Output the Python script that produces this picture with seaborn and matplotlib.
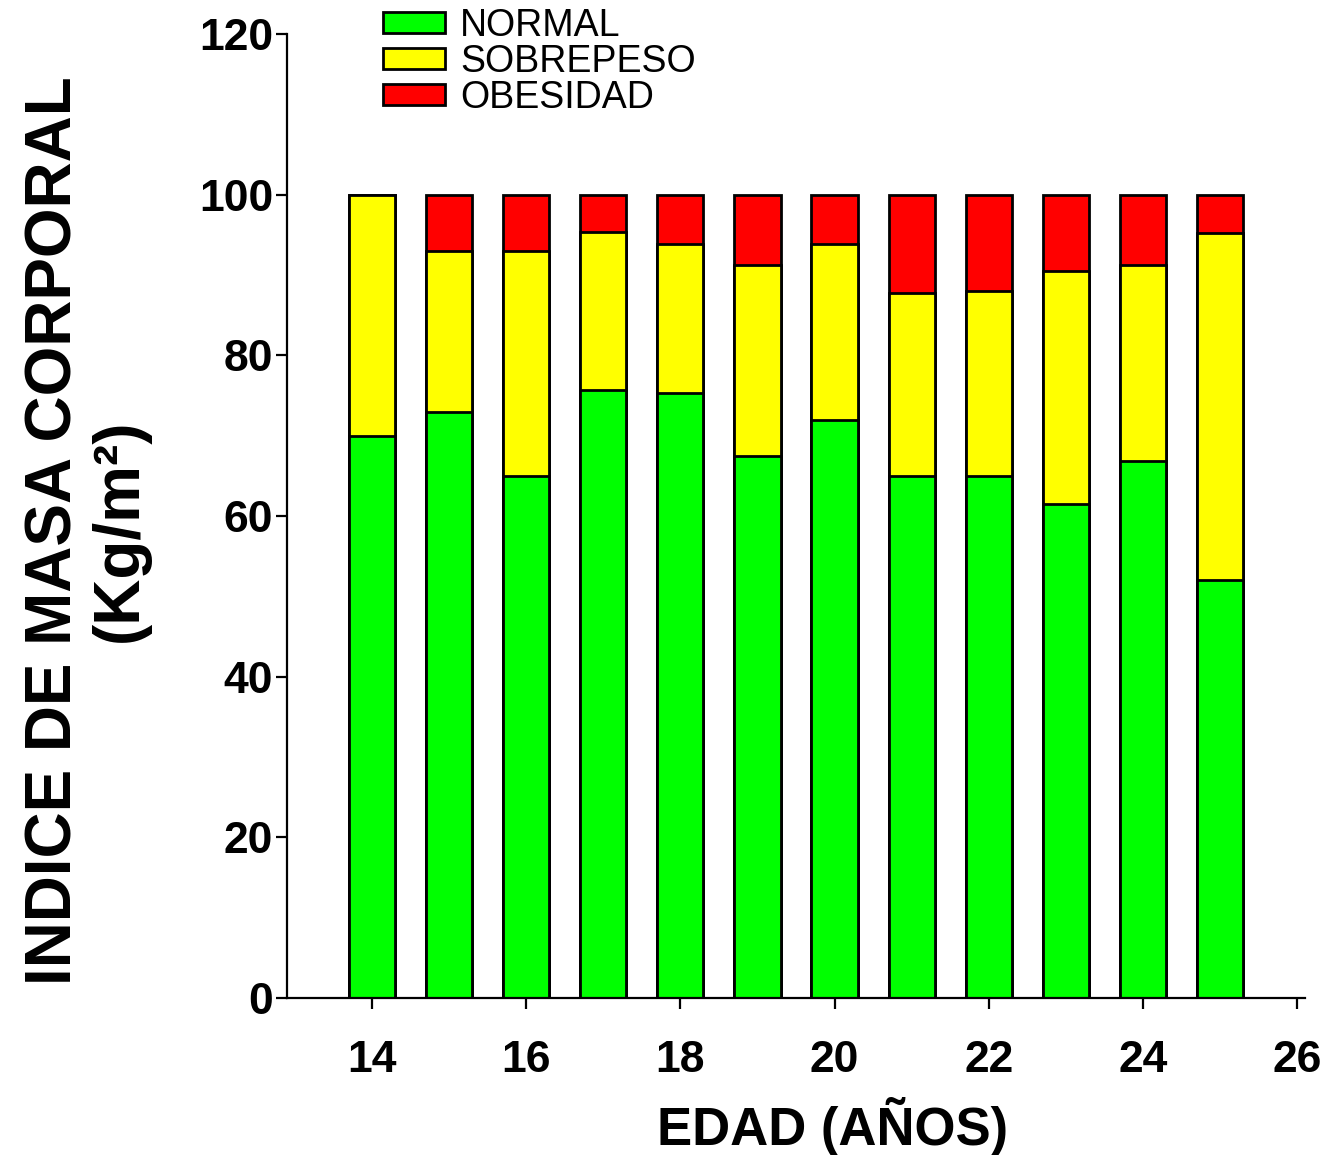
import matplotlib
matplotlib.use("Agg")
import matplotlib.pyplot as plt
from matplotlib.patches import Patch
import numpy as np
import pandas as pd
import seaborn as sns

# data
edad = [14, 15, 16, 17, 18, 19, 20, 21, 22, 23, 24, 25]
normal = [70.0, 73.0, 65.0, 75.7, 75.3, 67.5, 72.0, 65.0, 65.0, 61.5, 66.9, 52.0]
sobrepeso = [30.0, 20.0, 28.0, 19.6, 18.6, 23.7, 21.8, 22.8, 23.0, 29.0, 24.4, 43.2]
obesidad = [0.0, 7.0, 7.0, 4.7, 6.1, 8.8, 6.2, 12.2, 12.0, 9.5, 8.7, 4.8]
categorias = ["NORMAL", "SOBREPESO", "OBESIDAD"]
colores = ["#00ff00", "#ffff00", "#ff0000"]

sns.set_style("ticks", {"text.color": "black", "axes.labelcolor": "black",
                        "xtick.color": "black", "ytick.color": "black",
                        "axes.edgecolor": "black"})
plt.rcParams["font.family"] = ["Liberation Sans", "DejaVu Sans"]

df = pd.DataFrame({"edad": edad, "normal": normal,
                   "sobrepeso": sobrepeso, "obesidad": obesidad})
df["top_sobre"] = df["normal"] + df["sobrepeso"]
df["top_obes"] = df["top_sobre"] + df["obesidad"]

fig = plt.figure(figsize=(13.38, 11.55), dpi=100)
ax = fig.add_axes([287 / 1338, 1 - 998 / 1155, (1305 - 287) / 1338, (998 - 34) / 1155])

# stacked bars drawn back to front
for col, c in [("top_obes", colores[2]), ("top_sobre", colores[1]), ("normal", colores[0])]:
    sns.barplot(data=df, x="edad", y=col, native_scale=True, width=0.6,
                color=c, saturation=1, edgecolor="black", linewidth=2, ax=ax)

ax.set_xlim(12.9, 26.1)
ax.set_ylim(0, 120)
ax.set_xticks(np.arange(14, 27, 2))
ax.set_yticks(np.arange(0, 121, 20))
sns.despine(ax=ax)
for s in ["left", "bottom"]:
    ax.spines[s].set_linewidth(1.6)
ax.tick_params(axis="x", length=8, width=1.6, pad=22, labelsize=32)
ax.tick_params(axis="y", length=8, width=1.6, pad=2, labelsize=32)
for lbl in ax.get_xticklabels() + ax.get_yticklabels():
    lbl.set_fontweight("bold")

ax.set_xlabel("EDAD (AÑOS)", fontsize=38, fontweight="bold")
ax.xaxis.set_label_coords((833 - 287) / 1018, -0.1025)
ax.set_ylabel("INDICE DE MASA CORPORAL\n(Kg/m²)", fontsize=46,
              fontweight="bold", linespacing=1.1)
ax.yaxis.set_label_coords(-0.135, 0.485)

handles = [Patch(facecolor=c, edgecolor="black", linewidth=2) for c in colores]
fig.legend(handles, categorias, loc="upper left", bbox_to_anchor=(383 / 1338, 1 - 8 / 1155),
           frameon=False, fontsize=27, handlelength=1.65, handleheight=0.5,
           handletextpad=0.4, labelspacing=0.0, borderpad=0, borderaxespad=0)

fig.savefig("out.png", dpi=100)
